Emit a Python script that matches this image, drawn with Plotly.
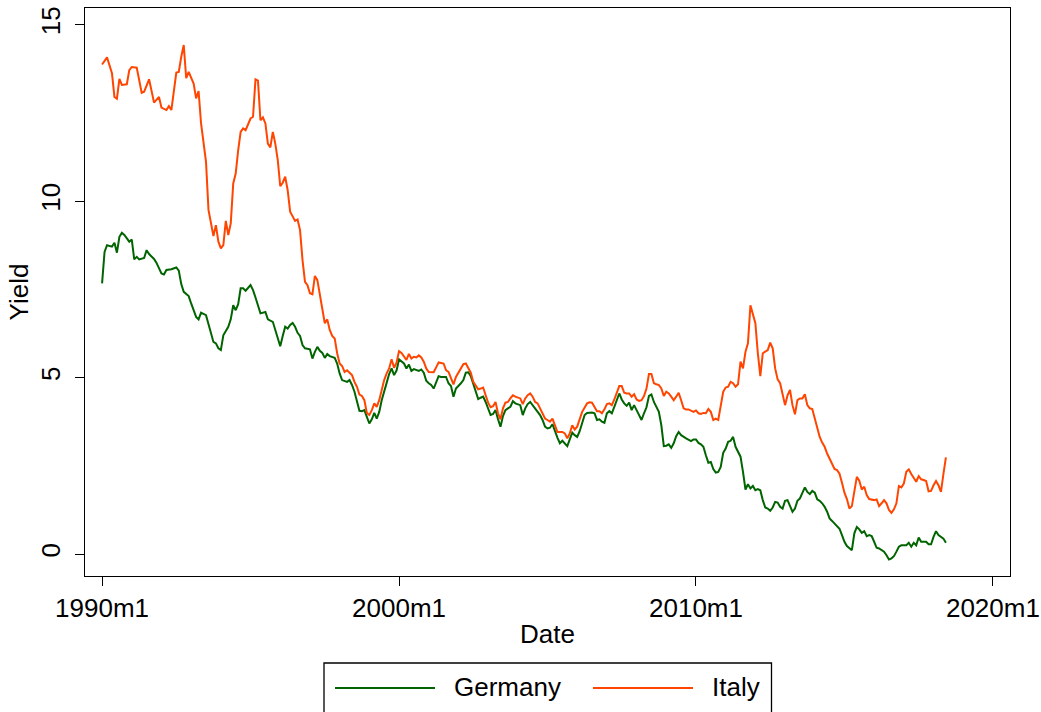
import plotly.graph_objects as go

# month index: 0 = 1990m1
germany_month = [0, 1, 2, 4, 5, 6, 7, 8, 9, 10, 11, 12, 13, 14, 15, 17, 18, 19, 21, 22, 24, 25, 26, 28, 29, 30, 31, 32, 33, 35, 36, 38, 39, 40, 42, 43, 44, 45, 46, 47, 48, 49, 51, 52, 53, 54, 55, 56, 57, 58, 60, 61, 62, 63, 64, 66, 67, 69, 70, 71, 72, 73, 74, 75, 76, 77, 78, 79, 80, 81, 82, 84, 85, 86, 87, 88, 89, 90, 91, 92, 94, 95, 96, 97, 99, 100, 101, 102, 103, 104, 105, 106, 107, 108, 109, 110, 111, 112, 113, 114, 115, 116, 117, 118, 119, 120, 122, 123, 124, 125, 126, 128, 129, 130, 131, 132, 133, 134, 135, 136, 137, 139, 140, 141, 142, 143, 145, 146, 147, 148, 149, 150, 151, 152, 153, 154, 155, 156, 157, 158, 159, 160, 161, 162, 163, 164, 165, 166, 167, 169, 170, 171, 172, 173, 174, 175, 176, 177, 178, 179, 180, 181, 182, 183, 184, 185, 186, 188, 189, 190, 191, 192, 193, 194, 195, 196, 198, 199, 200, 201, 202, 203, 204, 205, 206, 207, 208, 209, 210, 211, 212, 213, 214, 215, 216, 217, 218, 219, 220, 221, 222, 223, 224, 225, 226, 227, 228, 229, 230, 231, 232, 233, 234, 235, 236, 238, 239, 240, 241, 242, 243, 244, 245, 246, 247, 248, 249, 250, 251, 252, 253, 254, 255, 256, 257, 258, 259, 260, 261, 262, 263, 264, 265, 266, 267, 268, 269, 270, 271, 272, 273, 274, 275, 276, 277, 278, 279, 280, 281, 282, 283, 284, 285, 286, 287, 288, 289, 290, 291, 292, 293, 294, 295, 296, 297, 298, 299, 300, 301, 303, 304, 305, 306, 307, 308, 309, 310, 311, 312, 313, 314, 315, 316, 317, 318, 319, 320, 321, 322, 323, 325, 326, 327, 328, 329, 330, 331, 332, 333, 334, 335, 336, 337, 338, 339, 340, 341]
germany_yield = [7.67, 8.56, 8.75, 8.71, 8.82, 8.54, 8.99, 9.10, 9.04, 8.94, 8.85, 8.91, 8.35, 8.42, 8.35, 8.39, 8.61, 8.50, 8.36, 8.25, 7.95, 7.92, 8.05, 8.07, 8.09, 8.12, 8.03, 7.65, 7.43, 7.31, 7.10, 6.72, 6.65, 6.84, 6.77, 6.54, 6.30, 6.01, 5.97, 5.83, 5.78, 6.20, 6.44, 6.65, 7.05, 6.91, 7.08, 7.53, 7.53, 7.46, 7.62, 7.48, 7.27, 7.05, 6.82, 6.86, 6.65, 6.58, 6.37, 6.11, 5.89, 6.18, 6.44, 6.39, 6.49, 6.55, 6.44, 6.27, 6.18, 5.92, 5.83, 5.80, 5.54, 5.73, 5.87, 5.76, 5.70, 5.56, 5.67, 5.61, 5.56, 5.40, 5.12, 4.93, 4.88, 4.93, 4.79, 4.60, 4.36, 4.06, 4.05, 4.08, 3.89, 3.70, 3.82, 4.00, 3.84, 4.03, 4.36, 4.65, 4.85, 5.10, 5.26, 5.07, 5.20, 5.52, 5.40, 5.26, 5.37, 5.19, 5.24, 5.19, 5.23, 5.14, 4.91, 4.84, 4.79, 4.69, 4.84, 5.04, 5.02, 5.02, 4.84, 4.76, 4.46, 4.69, 4.84, 4.93, 5.14, 5.15, 5.04, 4.82, 4.60, 4.39, 4.43, 4.46, 4.31, 4.13, 3.94, 3.97, 4.08, 3.82, 3.61, 3.91, 4.08, 4.13, 4.17, 4.33, 4.27, 4.22, 3.94, 4.13, 4.25, 4.31, 4.22, 4.13, 4.03, 3.94, 3.80, 3.61, 3.56, 3.58, 3.68, 3.46, 3.30, 3.14, 3.21, 3.06, 3.23, 3.44, 3.37, 3.32, 3.48, 3.70, 3.94, 4.00, 4.01, 3.99, 3.80, 3.82, 3.75, 3.72, 3.99, 4.05, 3.99, 4.17, 4.38, 4.55, 4.38, 4.27, 4.20, 4.29, 4.08, 4.22, 4.08, 3.94, 3.80, 3.99, 4.16, 4.48, 4.52, 4.31, 4.16, 4.03, 3.65, 3.06, 3.07, 3.11, 3.01, 3.14, 3.34, 3.46, 3.37, 3.32, 3.28, 3.20, 3.25, 3.25, 3.15, 3.11, 3.04, 2.80, 2.59, 2.61, 2.41, 2.31, 2.33, 2.47, 2.87, 2.99, 3.18, 3.21, 3.32, 3.04, 2.88, 2.76, 2.33, 1.83, 1.98, 1.86, 1.93, 1.81, 1.84, 1.81, 1.53, 1.32, 1.29, 1.23, 1.32, 1.48, 1.46, 1.34, 1.29, 1.51, 1.53, 1.34, 1.20, 1.29, 1.51, 1.58, 1.76, 1.89, 1.76, 1.70, 1.79, 1.74, 1.55, 1.51, 1.44, 1.34, 1.20, 1.01, 0.94, 0.87, 0.77, 0.72, 0.54, 0.35, 0.23, 0.11, 0.59, 0.77, 0.70, 0.60, 0.65, 0.51, 0.54, 0.51, 0.35, 0.18, 0.16, 0.11, 0.07, -0.03, -0.15, -0.12, -0.06, 0.07, 0.21, 0.25, 0.25, 0.32, 0.21, 0.32, 0.25, 0.47, 0.35, 0.35, 0.35, 0.28, 0.28, 0.49, 0.65, 0.54, 0.49, 0.44, 0.32]

italy_month = [0, 2, 4, 5, 6, 7, 8, 10, 11, 12, 14, 16, 17, 19, 21, 23, 24, 26, 27, 28, 30, 31, 32, 33, 34, 35, 37, 38, 39, 40, 42, 43, 45, 46, 47, 48, 49, 50, 51, 52, 53, 54, 55, 56, 57, 58, 60, 61, 62, 63, 64, 65, 66, 67, 68, 69, 70, 71, 72, 73, 74, 75, 76, 77, 78, 79, 80, 81, 82, 83, 84, 85, 86, 87, 88, 89, 90, 91, 92, 93, 94, 95, 96, 97, 98, 99, 101, 102, 103, 104, 105, 106, 107, 108, 109, 110, 111, 112, 113, 114, 115, 116, 117, 118, 119, 120, 121, 123, 124, 125, 126, 127, 128, 129, 130, 131, 132, 134, 135, 136, 138, 139, 140, 141, 142, 143, 144, 146, 147, 148, 149, 150, 152, 153, 154, 155, 156, 157, 158, 159, 160, 161, 162, 163, 164, 165, 166, 167, 169, 170, 171, 172, 173, 174, 175, 176, 177, 178, 179, 180, 181, 182, 183, 184, 186, 187, 188, 189, 190, 191, 192, 193, 194, 196, 197, 198, 199, 200, 201, 202, 203, 204, 205, 206, 207, 208, 209, 210, 211, 212, 213, 214, 215, 216, 217, 218, 219, 220, 221, 222, 223, 224, 225, 226, 227, 228, 229, 230, 231, 232, 233, 234, 235, 236, 237, 239, 240, 241, 242, 243, 244, 245, 246, 247, 248, 249, 250, 251, 252, 253, 254, 255, 256, 257, 258, 259, 260, 261, 262, 263, 264, 265, 266, 267, 269, 270, 271, 272, 273, 274, 275, 276, 277, 278, 279, 280, 281, 282, 283, 284, 285, 286, 287, 288, 289, 290, 291, 292, 293, 294, 295, 296, 297, 298, 299, 300, 301, 302, 303, 304, 305, 306, 307, 308, 309, 310, 311, 312, 313, 314, 315, 316, 317, 318, 319, 320, 321, 322, 323, 324, 325, 326, 327, 328, 329, 330, 331, 332, 333, 334, 335, 336, 337, 338, 339, 340, 341]
italy_yield = [13.87, 14.07, 13.62, 12.95, 12.90, 13.46, 13.29, 13.31, 13.71, 13.80, 13.78, 13.07, 13.10, 13.45, 12.79, 12.95, 12.65, 12.58, 12.69, 12.58, 13.64, 13.66, 14.09, 14.42, 13.48, 13.66, 13.33, 12.91, 13.12, 12.20, 11.11, 9.75, 9.01, 9.32, 8.85, 8.66, 8.75, 9.44, 9.04, 9.37, 10.50, 10.78, 11.44, 11.96, 12.06, 12.01, 12.34, 12.39, 13.45, 13.41, 12.29, 12.37, 12.20, 11.63, 11.52, 11.96, 11.63, 11.16, 10.42, 10.52, 10.69, 10.31, 9.70, 9.56, 9.44, 9.48, 9.18, 8.33, 7.71, 7.62, 7.39, 7.36, 7.88, 7.76, 7.39, 7.00, 6.54, 6.65, 6.35, 6.18, 6.11, 5.69, 5.40, 5.33, 5.16, 5.21, 5.07, 4.88, 4.74, 4.52, 4.48, 4.36, 4.00, 3.94, 4.08, 4.27, 4.17, 4.36, 4.65, 4.93, 5.12, 5.26, 5.52, 5.28, 5.42, 5.75, 5.70, 5.50, 5.67, 5.54, 5.59, 5.57, 5.63, 5.57, 5.45, 5.26, 5.16, 5.15, 5.29, 5.43, 5.40, 5.21, 5.16, 4.98, 4.81, 5.02, 5.14, 5.38, 5.40, 5.29, 5.14, 4.88, 4.67, 4.69, 4.72, 4.50, 4.29, 4.16, 4.19, 4.31, 3.99, 3.82, 4.13, 4.29, 4.31, 4.41, 4.50, 4.46, 4.41, 4.25, 4.41, 4.50, 4.55, 4.46, 4.31, 4.27, 4.13, 3.99, 3.84, 3.80, 3.75, 3.84, 3.65, 3.46, 3.46, 3.42, 3.28, 3.42, 3.65, 3.53, 3.61, 3.84, 4.03, 4.27, 4.30, 4.29, 4.17, 4.05, 4.05, 3.99, 4.10, 4.25, 4.27, 4.22, 4.38, 4.55, 4.76, 4.76, 4.57, 4.55, 4.55, 4.46, 4.53, 4.38, 4.34, 4.36, 4.48, 4.69, 5.10, 5.10, 4.84, 4.81, 4.79, 4.69, 4.48, 4.60, 4.55, 4.46, 4.36, 4.46, 4.57, 4.36, 4.13, 4.10, 4.10, 4.03, 4.07, 3.99, 3.97, 4.00, 3.99, 4.11, 4.03, 3.80, 3.84, 3.80, 4.17, 4.60, 4.72, 4.74, 4.88, 4.84, 4.74, 4.81, 5.45, 5.26, 5.73, 5.97, 7.05, 6.80, 6.54, 5.69, 5.04, 5.69, 5.78, 5.99, 5.83, 5.26, 4.95, 4.84, 4.50, 4.22, 4.50, 4.65, 4.22, 3.96, 4.36, 4.41, 4.41, 4.53, 4.22, 4.13, 4.11, 3.84, 3.61, 3.32, 3.16, 3.04, 2.85, 2.71, 2.57, 2.41, 2.38, 2.28, 2.02, 1.74, 1.56, 1.29, 1.36, 1.76, 2.19, 2.08, 1.83, 1.91, 1.67, 1.56, 1.55, 1.53, 1.55, 1.36, 1.44, 1.53, 1.44, 1.25, 1.17, 1.27, 1.44, 1.93, 1.89, 2.00, 2.33, 2.40, 2.27, 2.17, 2.05, 2.21, 2.12, 2.10, 2.07, 1.78, 1.79, 1.95, 2.07, 1.95, 1.76, 2.27, 2.74]

x_tick_vals = [0, 120, 240, 360]
x_tick_text = ["1990m1", "2000m1", "2010m1", "2020m1"]
y_tick_vals = [0, 5, 10, 15]
series_names = ["Germany", "Italy"]
series_colors = ["#006400", "#FF4500"]

FONT = "Liberation Sans, Arial, Helvetica, sans-serif"
FS = 26

W, H = 1041, 712
L, R, T, B = 85, 31, 8, 136
PW, PH = W - L - R, H - T - B


def px_x(px):
    return (px - L) / PW


def px_y(py):
    return (H - B - py) / PH


fig = go.Figure()
fig.add_trace(go.Scatter(x=germany_month, y=germany_yield, mode="lines",
                         name=series_names[0], line=dict(color=series_colors[0], width=2)))
fig.add_trace(go.Scatter(x=italy_month, y=italy_yield, mode="lines",
                         name=series_names[1], line=dict(color=series_colors[1], width=2)))

axis_common = dict(showline=True, linecolor="black", linewidth=1.3, mirror=True,
                   showgrid=False, zeroline=False, ticks="outside", ticklen=9,
                   tickwidth=1.3, tickcolor="black",
                   tickfont=dict(family=FONT, size=FS, color="black"))

fig.update_layout(
    width=W, height=H,
    margin=dict(l=L, r=R, t=T, b=B, autoexpand=False),
    paper_bgcolor="white", plot_bgcolor="white",
    showlegend=False,
    xaxis=dict(range=[-6.9, 366.9], tickvals=x_tick_vals, ticktext=x_tick_text,
               title=dict(text="Date", font=dict(family=FONT, size=FS, color="black"), standoff=2),
               automargin=False, **axis_common),
    yaxis=dict(range=[-0.62, 15.47], tickvals=y_tick_vals, tickangle=-90,
               ticklabelstandoff=4,
               title=dict(text="Yield", font=dict(family=FONT, size=FS, color="black"), standoff=0),
               automargin=False, **axis_common),
)

# legend box drawn like the reference (long key lines)
fig.add_shape(type="rect", xref="paper", yref="paper",
              x0=px_x(324), x1=px_x(771.5), y0=px_y(722), y1=px_y(663),
              line=dict(color="black", width=1.3), fillcolor="white")
key_spans = [(335, 435), (593, 693)]
text_left = [452, 710]
for name, color, (a, b), tx in zip(series_names, series_colors, key_spans, text_left):
    fig.add_shape(type="line", xref="paper", yref="paper",
                  x0=px_x(a), x1=px_x(b), y0=px_y(688), y1=px_y(688),
                  line=dict(color=color, width=2))
    fig.add_annotation(xref="paper", yref="paper", x=px_x(tx), y=px_y(687),
                       xanchor="left", yanchor="middle", showarrow=False,
                       text=name, font=dict(family=FONT, size=FS, color="black"))

fig.write_html("out.html")
